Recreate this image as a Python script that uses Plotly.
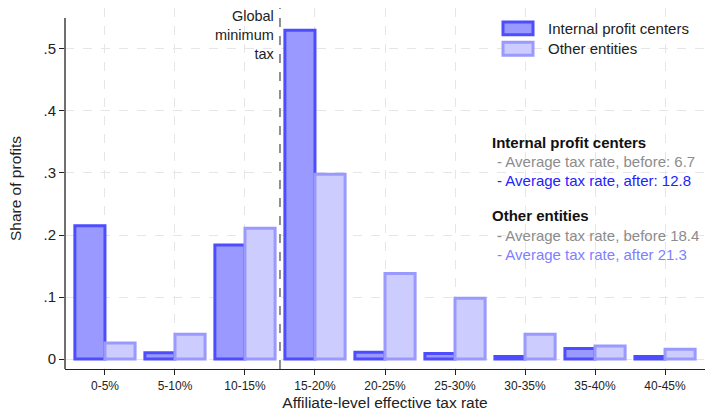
import plotly.graph_objects as go

categories = ["0-5%", "5-10%", "10-15%", "15-20%", "20-25%", "25-30%", "30-35%", "35-40%", "40-45%"]
internal_vals = [0.215, 0.010, 0.184, 0.530, 0.011, 0.009, 0.004, 0.017, 0.004]
other_vals = [0.026, 0.040, 0.211, 0.298, 0.138, 0.098, 0.040, 0.021, 0.016]
y_tickvals = [0, 0.1, 0.2, 0.3, 0.4, 0.5]
y_ticktext = ["0", ".1", ".2", ".3", ".4", ".5"]
series_names = ["Internal profit centers", "Other entities"]
fill_colors = ["#9999ff", "#ccccff"]
line_colors = ["#4d4dff", "#9999ff"]

FONT = "Liberation Sans, Arial, sans-serif"

# plot-area pixel geometry helpers (for decorations only)
L, R, T, B = 65, 705, 8, 371
def px(x):
    return (x - L) / (R - L)
def py(y):
    return (B - y) / (B - T)

fig = go.Figure()
for name, vals, fc, lc in zip(series_names, [internal_vals, other_vals], fill_colors, line_colors):
    fig.add_trace(go.Bar(
        x=categories, y=vals, name=name, showlegend=False,
        marker=dict(color=fc, line=dict(color=lc, width=3)),
    ))

# y axis line (Stata-style, shorter than plot region)
fig.add_shape(type="line", xref="paper", yref="paper", x0=0, x1=0, y0=0, y1=py(18),
              line=dict(color="#222222", width=1.3))

# global minimum tax line
fig.add_shape(type="line", xref="x", yref="paper", x0=2.5, x1=2.5, y0=0, y1=1,
              line=dict(color="#555555", width=1.3, dash="dash"))
fig.add_annotation(xref="x", yref="paper", x=2.5, y=1.0, xshift=-3, yshift=2,
                   text="Global<br>minimum<br>tax", showarrow=False,
                   xanchor="right", yanchor="top", align="right",
                   font=dict(family=FONT, size=14.5, color="#222222"))

# manual legend
for i, (name, fc, lc) in enumerate(zip(series_names, fill_colors, line_colors)):
    y0p, y1p = 22 + i * 20.5, 35 + i * 20.5
    fig.add_shape(type="rect", xref="paper", yref="paper",
                  x0=px(503), x1=px(533), y0=py(y1p), y1=py(y0p),
                  fillcolor=fc, line=dict(color=lc, width=3))
    fig.add_annotation(xref="paper", yref="paper", x=px(546), y=py((y0p + y1p) / 2),
                       text=name, showarrow=False, xanchor="left", yanchor="middle",
                       font=dict(family=FONT, size=15, color="#222222"))

ann = [
    ("<b>Internal profit centers</b>", 0.667, 143, "#111111"),
    ("- Average tax rate, before: 6.7", 0.675, 162, "#8c8c8c"),
    ("- Average tax rate, after: 12.8", 0.675, 181, "#2222ff"),
    ("<b>Other entities</b>", 0.667, 217, "#111111"),
    ("- Average tax rate, before 18.4", 0.675, 237, "#8c8c8c"),
    ("- Average tax rate, after 21.3", 0.675, 256, "#8080ff"),
]
for text, xp, ypix, col in ann:
    fig.add_annotation(xref="paper", yref="paper", x=xp, y=py(ypix),
                       text=text, showarrow=False, xanchor="left", yanchor="middle",
                       xshift=-2,
                       font=dict(family=FONT, size=15, color=col))

fig.update_layout(
    width=708, height=411,
    margin=dict(l=65, r=3, t=8, b=40),
    paper_bgcolor="white", plot_bgcolor="white",
    barmode="group", bargap=0.14, bargroupgap=0.0,
    font=dict(family=FONT, size=14, color="#222222"),
    showlegend=False,
    xaxis=dict(
        range=[-0.571, 8.571], showgrid=True, griddash="dash", gridcolor="#e6e6e6", gridwidth=1,
        showline=True, linecolor="#222222", linewidth=1.3,
        ticks="outside", ticklen=5, tickcolor="#222222",
        tickfont=dict(family=FONT, size=12, color="#222222"),
        title=dict(text="Affiliate-level effective tax rate", font=dict(family=FONT, size=15.5), standoff=5),
        zeroline=False,
    ),
    yaxis=dict(
        range=[-0.016, 0.566], tickvals=y_tickvals, ticktext=y_ticktext,
        showgrid=True, griddash="dash", gridcolor="#e6e6e6", gridwidth=1,
        showline=False,
        ticks="outside", ticklen=5, tickcolor="#222222",
        tickfont=dict(family=FONT, size=15, color="#222222"),
        title=dict(text="Share of profits", font=dict(family=FONT, size=15.5), standoff=18),
        zeroline=False,
    ),
)

fig.write_html("out.html", config={"displayModeBar": False},
               post_script="document.body.style.margin='0';document.body.style.overflow='hidden';")
